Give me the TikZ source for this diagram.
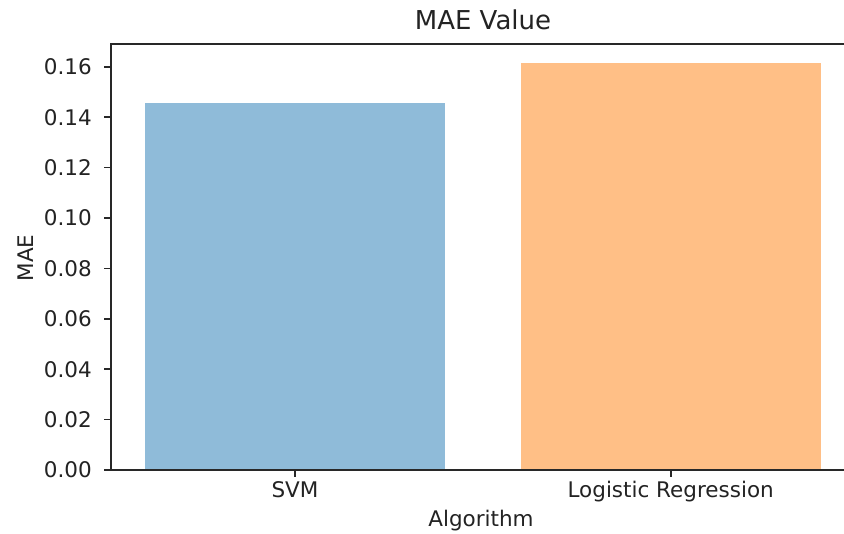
\documentclass[tikz,border=0pt]{standalone}
\usepackage{fontspec}
\setmainfont{DejaVu Sans}
\definecolor{barblue}{RGB}{143,187,217}
\definecolor{barorange}{RGB}{255,191,134}
\definecolor{spine}{RGB}{40,40,40}
\definecolor{txt}{RGB}{35,35,35}
\begin{document}
\begin{tikzpicture}[x=1pt,y=-1pt,
  ticklab/.style={inner sep=0pt,text=txt,font=\fontsize{21.5}{26}\selectfont},
  titlelab/.style={inner sep=0pt,text=txt,font=\fontsize{26}{31}\selectfont},
  spineline/.style={draw=spine,line width=2pt},
  tickline/.style={draw=spine,line width=1.6pt}]
  % canvas
  \clip (0,0) rectangle (844,534);
  \fill[white] (0,0) rectangle (844,534);
  % bars (value v sits at y = 470 - 2520 v)
  \fill[barblue] (145,470) rectangle (445,102.8);
  \fill[barorange] (520.5,470) rectangle (821,62.7);
  % axes frame
  \draw[spineline] (111,44) rectangle (855,470);
  % y ticks and labels
  \foreach \i/\lab in {0/0.00,1/0.02,2/0.04,3/0.06,4/0.08,5/0.10,6/0.12,7/0.14,8/0.16}{
    \coordinate (yt\i) at (111,{470-50.4*\i});
    \draw[tickline] (yt\i) -- ++(-7,0);
    \node[ticklab,anchor=east] (ylab\i) at ([xshift=-19pt]yt\i) {\lab};
  }
  % x ticks and labels
  \coordinate (xt1) at (295,470);
  \coordinate (xt2) at (670.7,470);
  \draw[tickline] (xt1) -- ++(0,7);
  \draw[tickline] (xt2) -- ++(0,7);
  \node[ticklab,anchor=base] (xlab1) at (295,498) {SVM};
  \node[ticklab,anchor=base] (xlab2) at (670.7,498) {Logistic Regression};
  % axis titles
  \node[ticklab,anchor=base] (xtitle) at (481,526) {Algorithm};
  \node[ticklab,anchor=base,rotate=90] (ytitle) at (33,258) {MAE};
  \node[titlelab,anchor=base] (title) at (483,30) {MAE Value};
\end{tikzpicture}
\end{document}
